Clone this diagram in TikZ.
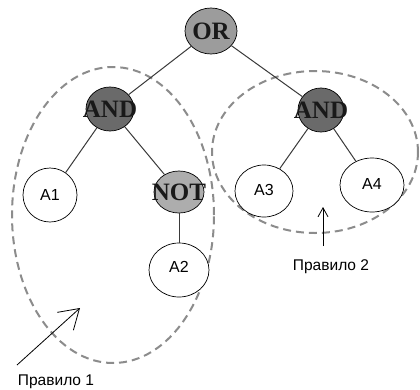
\documentclass[tikz,border=0pt]{standalone}
\usepackage{fontspec}
\setmainfont{Liberation Serif}
\newfontfamily\labelsans{Liberation Sans}
\usetikzlibrary{shapes.geometric,arrows.meta}
\definecolor{orfill}{HTML}{9C9C9C}
\definecolor{andfill}{HTML}{6A6A6A}
\definecolor{notfill}{HTML}{ADADAD}
\definecolor{rulegray}{HTML}{8C8C8C}
\definecolor{edgegray}{HTML}{3A3A3A}
\tikzset{
  gate/.style={ellipse, draw=black, line width=0.7pt, inner sep=0pt,
    font=\bfseries\fontsize{25}{25}\selectfont, text=black!90},
  leaf/.style={ellipse, draw=black, line width=0.7pt, fill=white, inner sep=0pt,
    font=\labelsans\fontsize{16}{16}\selectfont},
  edge/.style={draw=edgegray, line width=1pt},
  rulezone/.style={draw=rulegray, line width=2pt, dash pattern=on 8pt off 5pt},
  rulelabel/.style={font=\labelsans\fontsize{15.5}{15.5}\selectfont, inner sep=0pt},
  pointer/.style={draw=black, line width=0.8pt}
}
\begin{document}
\begin{tikzpicture}[x=1pt, y=-1pt]
  \path[use as bounding box, fill=white] (0,0) rectangle (420,389);

  % rule regions
  \draw[rulezone] (113,215) ellipse [x radius=101pt, y radius=148pt];
  \draw[rulezone] (315,152) ellipse [x radius=103pt, y radius=81pt];

  % tree nodes
  \node[gate, fill=orfill, minimum width=52pt, minimum height=46pt] (or) at (211,31) {\makebox[0pt]{OR}};
  \node[gate, fill=andfill, minimum width=48pt, minimum height=44pt] (andL) at (110,109) {\makebox[0pt]{AND}};
  \node[gate, fill=andfill, minimum width=46pt, minimum height=44pt] (andR) at (321,110) {\makebox[0pt]{AND}};
  \node[gate, fill=notfill, minimum width=50pt, minimum height=42pt] (not) at (179,192) {\makebox[0pt]{NOT}};
  \node[leaf, minimum width=54pt, minimum height=54pt] (a1) at (50,195) {\raisebox{-5pt}{A1}};
  \node[leaf, minimum width=60pt, minimum height=54pt] (a2) at (179,270) {\raisebox{7pt}{A2}};
  \node[leaf, minimum width=58pt, minimum height=52pt] (a3) at (264,191) {\raisebox{3pt}{A3}};
  \node[leaf, minimum width=64pt, minimum height=54pt] (a4) at (372,185) {\raisebox{3pt}{A4}};

  % tree edges
  \draw[edge] (or) -- (andL);
  \draw[edge] (or) -- (andR);
  \draw[edge] (andL) -- (a1);
  \draw[edge] (andL) -- (not);
  \draw[edge] (not.south) -- (a2.north);
  \draw[edge] (andR) -- (a3);
  \draw[edge] (andR) -- (a4);

  % rule labels and pointers
  \node[rulelabel] (p1) at (56,382) {Правило 1};
  \node[rulelabel] (p2) at (331,267) {Правило 2};
  \coordinate (p1tail) at (17,365);
  \coordinate (p1tip) at (80,308);
  \coordinate (p2tail) at (323,246);
  \coordinate (p2tip) at (323,207);
  \draw[pointer, -{Straight Barb[length=19pt, width=24pt]}] (p1tail) -- (p1tip);
  \draw[pointer, -{Straight Barb[length=9pt, width=10pt]}] (p2tail) -- (p2tip);
\end{tikzpicture}
\end{document}
